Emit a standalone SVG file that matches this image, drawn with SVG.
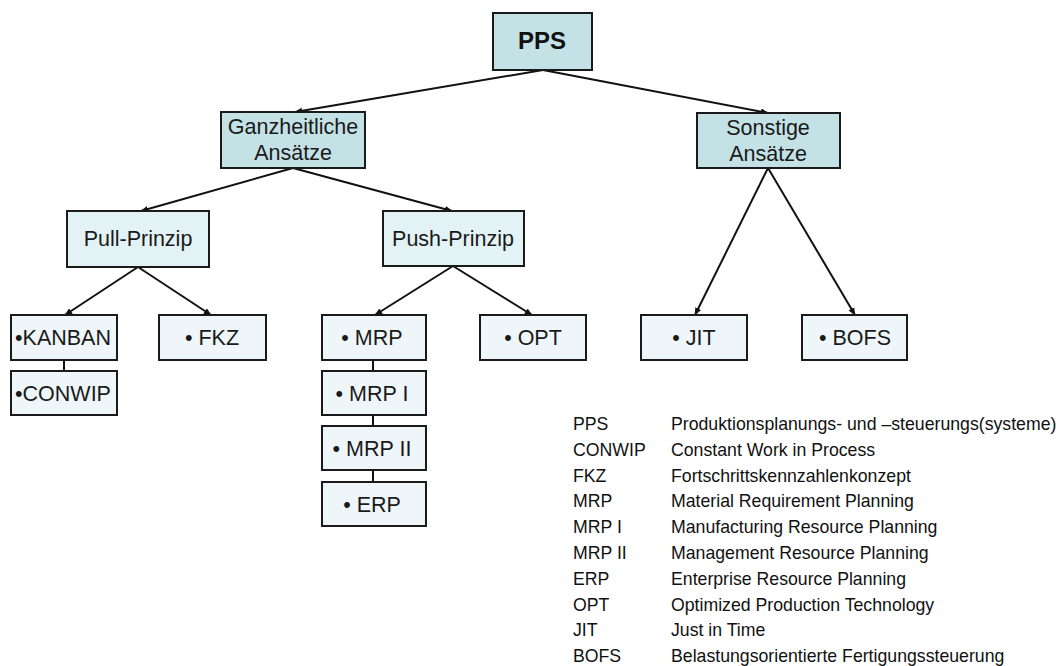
<svg xmlns="http://www.w3.org/2000/svg" width="1063" height="666" viewBox="0 0 1063 666">
  <style>
    .box { stroke: #1a1a1a; stroke-width: 2; }
    .top { fill: #c4e2e6; }
    .mid { fill: #e3f2f4; }
    .leaf { fill: #eef6f9; }
    .lbl { font-family: "Liberation Sans", Arial, sans-serif; font-size: 21.5px; fill: #1a1a1a; text-anchor: middle; }
    .title { font-family: "Liberation Sans", Arial, sans-serif; font-size: 24px; font-weight: bold; fill: #111; text-anchor: middle; }
    .edge { stroke: #111; stroke-width: 2; fill: none; }
    .arrow { marker-end: url(#tip); }
    .legend { font-family: "Liberation Sans", Arial, sans-serif; font-size: 17.7px; fill: #111; }
  </style>
  <defs>
    <marker id="tip" viewBox="0 0 10 10" refX="9" refY="5" markerWidth="4" markerHeight="4" orient="auto" markerUnits="strokeWidth">
      <path d="M0,1 L10,5 L0,9 z" fill="#111"/>
    </marker>
  </defs>
  <rect width="1063" height="666" fill="#ffffff"/>

  <!-- connectors -->
  <g id="connectors">
    <line class="edge arrow" x1="543" y1="70" x2="295" y2="112"/>
    <line class="edge arrow" x1="543" y1="70" x2="768" y2="113"/>
    <line class="edge arrow" x1="293" y1="168" x2="141" y2="211"/>
    <line class="edge arrow" x1="293" y1="168" x2="452" y2="211"/>
    <line class="edge arrow" x1="138" y1="267" x2="65" y2="315"/>
    <line class="edge arrow" x1="138" y1="267" x2="211" y2="315"/>
    <line class="edge arrow" x1="453" y1="266" x2="375" y2="315"/>
    <line class="edge arrow" x1="453" y1="266" x2="532" y2="315"/>
    <line class="edge arrow" x1="768" y1="168" x2="695" y2="315"/>
    <line class="edge arrow" x1="768" y1="168" x2="855" y2="315"/>
    <line class="edge" x1="64" y1="360" x2="64" y2="371"/>
    <line class="edge" x1="373" y1="360" x2="373" y2="371"/>
    <line class="edge" x1="373" y1="415" x2="373" y2="426"/>
    <line class="edge" x1="373" y1="470" x2="373" y2="482"/>
  </g>

  <!-- nodes -->
  <g id="n-pps">
    <rect class="box top" x="493" y="13" width="99" height="57"/>
    <text class="title" x="542" y="49">PPS</text>
  </g>
  <g id="n-ganzheitlich">
    <rect class="box top" x="221" y="112" width="144" height="56"/>
    <text class="lbl" x="293" y="134">Ganzheitliche</text>
    <text class="lbl" x="293" y="160">Ansätze</text>
  </g>
  <g id="n-sonstige">
    <rect class="box top" x="697" y="113" width="143" height="55"/>
    <text class="lbl" x="768" y="135">Sonstige</text>
    <text class="lbl" x="768" y="161">Ansätze</text>
  </g>
  <g id="n-pull">
    <rect class="box mid" x="67" y="211" width="142" height="56"/>
    <text class="lbl" x="138" y="246">Pull-Prinzip</text>
  </g>
  <g id="n-push">
    <rect class="box mid" x="383" y="211" width="141" height="55"/>
    <text class="lbl" x="453" y="246">Push-Prinzip</text>
  </g>
  <g id="n-kanban">
    <rect class="box leaf" x="11" y="315" width="106" height="45"/>
    <text class="lbl" x="63" y="345">•KANBAN</text>
  </g>
  <g id="n-conwip">
    <rect class="box leaf" x="11" y="371" width="106" height="44"/>
    <text class="lbl" x="63" y="401">•CONWIP</text>
  </g>
  <g id="n-fkz">
    <rect class="box leaf" x="159" y="315" width="107" height="45"/>
    <text class="lbl" x="212" y="345">• FKZ</text>
  </g>
  <g id="n-mrp">
    <rect class="box leaf" x="322" y="315" width="104" height="45"/>
    <text class="lbl" x="372" y="345">• MRP</text>
  </g>
  <g id="n-mrp1">
    <rect class="box leaf" x="322" y="371" width="104" height="44"/>
    <text class="lbl" x="372" y="401">• MRP I</text>
  </g>
  <g id="n-mrp2">
    <rect class="box leaf" x="322" y="426" width="104" height="44"/>
    <text class="lbl" x="372" y="456">• MRP II</text>
  </g>
  <g id="n-erp">
    <rect class="box leaf" x="322" y="482" width="104" height="44"/>
    <text class="lbl" x="372" y="512">• ERP</text>
  </g>
  <g id="n-opt">
    <rect class="box leaf" x="480" y="315" width="106" height="45"/>
    <text class="lbl" x="533" y="345">• OPT</text>
  </g>
  <g id="n-jit">
    <rect class="box leaf" x="641" y="315" width="106" height="45"/>
    <text class="lbl" x="694" y="345">• JIT</text>
  </g>
  <g id="n-bofs">
    <rect class="box leaf" x="802" y="315" width="105" height="45"/>
    <text class="lbl" x="855" y="345">• BOFS</text>
  </g>

  <!-- abbreviation list -->
  <g id="legend" class="legend">
    <text x="573" y="430">PPS</text><text x="671" y="430">Produktionsplanungs- und –steuerungs(systeme)</text>
    <text x="573" y="456">CONWIP</text><text x="671" y="456">Constant Work in Process</text>
    <text x="573" y="482">FKZ</text><text x="671" y="482">Fortschrittskennzahlenkonzept</text>
    <text x="573" y="507">MRP</text><text x="671" y="507">Material Requirement Planning</text>
    <text x="573" y="533">MRP I</text><text x="671" y="533">Manufacturing Resource Planning</text>
    <text x="573" y="559">MRP II</text><text x="671" y="559">Management Resource Planning</text>
    <text x="573" y="585">ERP</text><text x="671" y="585">Enterprise Resource Planning</text>
    <text x="573" y="611">OPT</text><text x="671" y="611">Optimized Production Technology</text>
    <text x="573" y="636">JIT</text><text x="671" y="636">Just in Time</text>
    <text x="573" y="662">BOFS</text><text x="671" y="662">Belastungsorientierte Fertigungssteuerung</text>
  </g>
</svg>
